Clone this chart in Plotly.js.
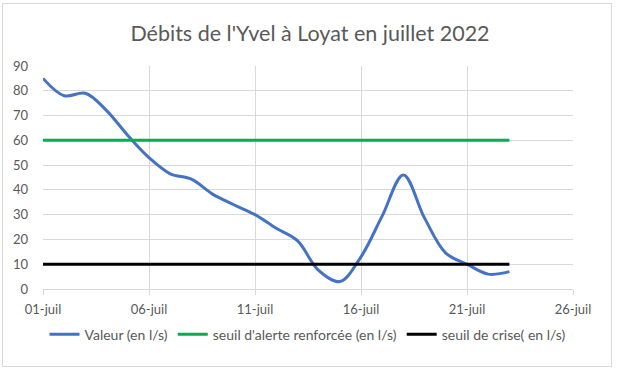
<!DOCTYPE html>
<html>
<head>
<meta charset="utf-8">
<script src="https://cdn.plot.ly/plotly-3.0.1.min.js"></script>
<style>
html,body{margin:0;padding:0;background:#fff;}
#wrap{position:relative;width:620px;height:375px;}
#chart{position:absolute;left:0;top:0;width:620px;height:375px;}
#frame{position:absolute;left:2px;top:3px;width:608px;height:362px;border:1px solid #d9d9d9;pointer-events:none;}
</style>
</head>
<body>
<div id="wrap"><div id="chart"></div><div id="frame"></div></div>
<script>
const dates = ['2022-07-01','2022-07-02','2022-07-03','2022-07-04','2022-07-05','2022-07-06','2022-07-07','2022-07-08','2022-07-09','2022-07-10','2022-07-11','2022-07-12','2022-07-13','2022-07-14','2022-07-15','2022-07-16','2022-07-17','2022-07-18','2022-07-19','2022-07-20','2022-07-21','2022-07-22','2022-07-23'];
const valeur = [85, 78, 79, 72, 62, 53, 46.5, 44.3, 38.3, 34, 30, 24.5, 19.5, 7.5, 3, 13, 29.5, 46, 28.6, 14.5, 10, 6, 7];
const seuilAlerte = [60,60,60,60,60,60,60,60,60,60,60,60,60,60,60,60,60,60,60,60,60,60,60];
const seuilCrise = [10,10,10,10,10,10,10,10,10,10,10,10,10,10,10,10,10,10,10,10,10,10,10];
const names = ['Valeur (en l/s)', "seuil d'alerte renforcée (en l/s)", 'seuil de crise( en l/s)'];
const titleText = "Débits de l'Yvel à Loyat en juillet 2022";

const font = "Lato, 'Open Sans', sans-serif";
const traces = [
  {x: dates, y: valeur, name: names[0], type: 'scatter', mode: 'lines', line: {color: '#4472c4', width: 3, shape: 'spline', smoothing: 1}},
  {x: dates, y: seuilAlerte, name: names[1], type: 'scatter', mode: 'lines', line: {color: '#00b050', width: 3}},
  {x: dates, y: seuilCrise, name: names[2], type: 'scatter', mode: 'lines', line: {color: '#000000', width: 3}}
];
const layout = {
  width: 620, height: 375,
  margin: {l: 43, r: 47, t: 66, b: 86},
  paper_bgcolor: 'rgba(0,0,0,0)', plot_bgcolor: '#fff',
  font: {family: font, color: '#595959', size: 13},
  title: {text: titleText, font: {family: font, size: 21.5, color: '#595959'}, x: 0.5, xanchor: 'center', y: 0.91, yanchor: 'middle'},
  xaxis: {
    type: 'date', range: ['2022-07-01', '2022-07-26'], tick0: '2022-07-01', dtick: 5 * 86400000,
    tickformat: '%d-juil', showgrid: true, gridcolor: '#d9d9d9', gridwidth: 1,
    showline: true, linecolor: '#d9d9d9', ticks: 'outside', ticklen: 5, tickcolor: '#d9d9d9',
    ticklabelstandoff: 3,
    tickfont: {size: 13, color: '#595959'}, zeroline: false, fixedrange: true
  },
  yaxis: {
    range: [0, 90], dtick: 10, showgrid: true, gridcolor: '#d9d9d9', gridwidth: 1,
    zeroline: false, showline: false, ticks: '', ticklabelstandoff: 14,
    tickfont: {size: 13, color: '#595959'}, fixedrange: true
  },
  showlegend: true,
  legend: {orientation: 'h', x: 0.5, xanchor: 'center', y: -0.205, yanchor: 'middle', font: {size: 14, color: '#595959'}, itemwidth: 30, tracegroupgap: 0}
};
Plotly.newPlot('chart', traces, layout, {displayModeBar: false, staticPlot: true});
</script>
</body>
</html>
